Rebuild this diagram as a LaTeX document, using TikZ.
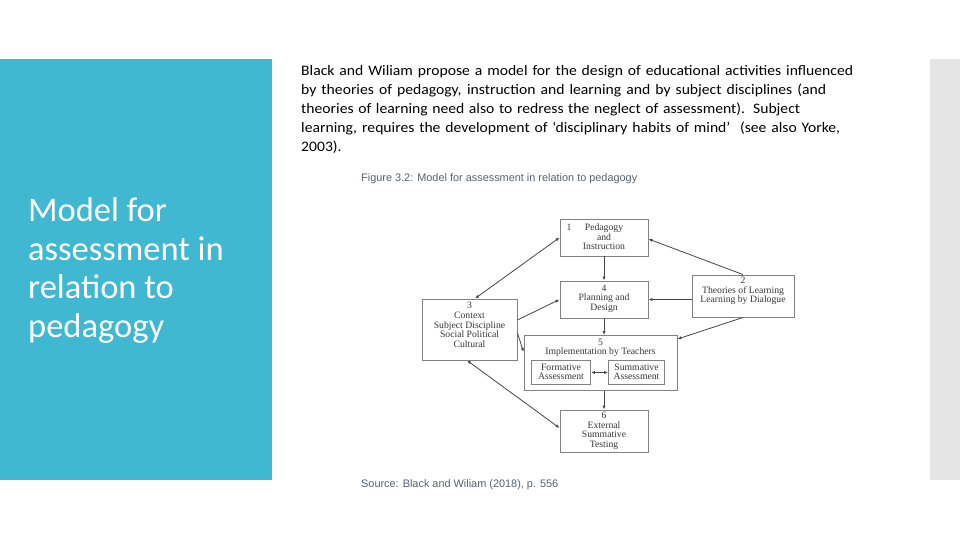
\documentclass[tikz,border=0pt]{standalone}
\usepackage{fontspec}
\setmainfont{Carlito}
\newfontfamily\parafont[FakeStretch=1.08]{Carlito}
\newfontfamily\boxfont{Liberation Serif}
\newfontfamily\capfont{Liberation Sans}
\usetikzlibrary{arrows.meta}
\definecolor{panelblue}{RGB}{64,184,210}
\definecolor{sidegray}{RGB}{229,229,229}
\definecolor{capgray}{RGB}{90,98,110}
\definecolor{boxline}{RGB}{130,130,130}
\definecolor{boxtext}{RGB}{55,55,55}
\definecolor{arrowgray}{RGB}{70,70,70}
\tikzset{
  mbox/.style={draw=boxline, line width=0.9pt, fill=white, rectangle, inner sep=0pt},
  mtext/.style={font=\boxfont\fontsize{9.7}{9.6}\selectfont, text=boxtext, align=center, inner sep=0pt},
  conn/.style={draw=arrowgray, line width=0.8pt, -{Latex[length=4pt,width=3.2pt]}},
  dconn/.style={draw=arrowgray, line width=0.8pt, {Latex[length=4pt,width=3.2pt]}-{Latex[length=4pt,width=3.2pt]}},
}
\begin{document}
\begin{tikzpicture}[x=1pt,y=-1pt]
\useasboundingbox (0,0) rectangle (960,540);
\fill[white] (0,0) rectangle (960,540);
% side panels
\fill[panelblue] (0,59) rectangle (272,480);
\fill[sidegray] (930,59) rectangle (960,480);
% title (anchor at baseline of last line)
\node[anchor=base west, inner sep=0pt, text=white, font=\fontsize{34.5}{38.5}\selectfont, align=left] (title) at (28,337)
  {Model for\\assessment in\\relation to\\pedagogy};
% paragraph (anchor at baseline of last line)
\node[anchor=base west, inner sep=0pt, text=black, font=\parafont\fontsize{14.5}{19.2}\selectfont, align=left] (para) at (301,152)
  {\makebox[552pt][s]{Black and Wiliam propose a model for the design of educational activities influenced}\\
   \makebox[525pt][s]{by theories of pedagogy, instruction and learning and by subject disciplines (and}\\
   \makebox[499pt][s]{theories of learning need also to redress the neglect of assessment). Subject}\\
   \makebox[539pt][s]{learning, requires the development of ‘disciplinary habits of mind’\ \ (see also Yorke,}\\
   2003).};
% caption and source
\node[anchor=base west, inner sep=0pt, text=capgray, font=\capfont\fontsize{10.9}{12}\selectfont] (cap) at (361,182)
  {Figure 3.2: Model for assessment in relation to pedagogy};
\node[anchor=base west, inner sep=0pt, text=capgray, font=\capfont\fontsize{10.9}{12}\selectfont] (src) at (361,487)
  {Source: Black and Wiliam (2018), p. 556};
% boxes
\node[mbox, minimum width=88pt, minimum height=37pt] (b1) at (604,237.5) {};
\node[mtext] (t1) at (604,236.8) {Pedagogy\\and\\Instruction};
\node[mtext, anchor=center] (n1) at (569,227) {1};
\node[mbox, minimum width=88pt, minimum height=37pt] (b4) at (604,299.5) {};
\node[mtext] (t4) at (604,298.5) {4\\Planning and\\Design};
\node[mbox, minimum width=102pt, minimum height=42pt] (b2) at (743,296) {};
\node[mtext] (t2) at (743,291) {2\\Theories of Learning\\Learning by Dialogue};
\node[mbox, minimum width=95pt, minimum height=61pt] (b3) at (469.5,329.5) {};
\node[mtext] (t3) at (469.5,325) {3\\Context\\Subject Discipline\\Social Political\\Cultural};
\node[mbox, minimum width=153pt, minimum height=55pt] (b5) at (600.5,363) {};
\node[mtext] (t5) at (600.5,348) {5\\Implementation by Teachers};
\node[mbox, minimum width=59pt, minimum height=24pt] (fa) at (561,372.5) {};
\node[mtext] (tfa) at (561,372) {Formative\\Assessment};
\node[mbox, minimum width=56pt, minimum height=24pt] (sa) at (636.5,372.5) {};
\node[mtext] (tsa) at (636.5,372) {Summative\\Assessment};
\node[mbox, minimum width=88pt, minimum height=42pt] (b6) at (604,431) {};
\node[mtext] (t6) at (604,431) {6\\External\\Summative\\Testing};
% connectors
\draw[conn] (b1.south) -- (b4.north);
\draw[conn] (b4.south) -- (b4.south |- b5.north);
\draw[conn] (b6.north |- b5.south) -- (b6.north);
\draw[conn] (b2.north) -- ([yshift=-1.5pt]b1.east);
\draw[conn] (b4.east -| b2.west) -- (b4.east);
\draw[conn] (b2.south) -- ([yshift=-4pt]b5.north east);
\draw[dconn] (b1.west) -- ([xshift=5.5pt]b3.north);
\draw[conn] ([yshift=9.5pt]b3.east) -- (b4.west);
\draw[conn] ([yshift=-3.5pt]b3.east) -- ([yshift=11pt]b5.west);
\draw[dconn] ([xshift=-2.5pt]b3.south) -- ([yshift=3pt]b6.west);
\draw[dconn] (fa.east) -- (sa.west);
\end{tikzpicture}
\end{document}
